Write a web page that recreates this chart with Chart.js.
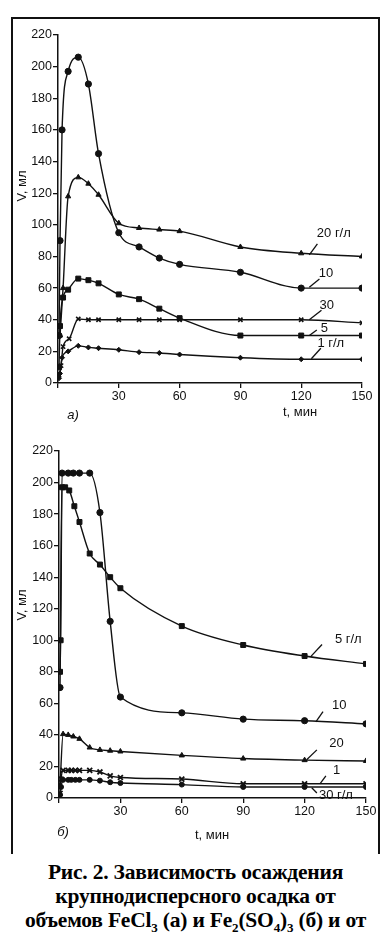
<!DOCTYPE html>
<html>
<head>
<meta charset="utf-8">
<script src="https://cdn.jsdelivr.net/npm/chart.js@4.4.1/dist/chart.umd.min.js"></script>
<style>
  html, body { margin: 0; padding: 0; background: #fff; }
  body { width: 391px; height: 936px; position: relative; overflow: hidden; }
  canvas { position: absolute; left: 0; }
  #chartA { top: 0; }
  #chartB { top: 430px; }
  .frame {
    position: absolute; left: 11px; top: 17px; width: 365px; height: 835px;
    border: 2px solid #111; border-bottom: none;
  }
  .caption {
    position: absolute; left: 0; top: 860px; width: 391px; text-align: center;
    font: bold 21.5px "Liberation Serif", "DejaVu Serif", serif; line-height: 24px; color: #000;
    letter-spacing: -0.2px;
  }
  .caption sub { font-size: 13px; line-height: 0; }
</style>
</head>
<body>
<div class="frame"></div>
<canvas id="chartA" width="391" height="425"></canvas>
<canvas id="chartB" width="391" height="420"></canvas>
<div class="caption">
  Рис. 2. Зависимость осаждения<br>
  крупнодисперсного осадка от<br>
  объемов FeCl<sub>3</sub> (а) и Fe<sub>2</sub>(SO<sub>4</sub>)<sub>3</sub> (б) и от
</div>
<script>
// ── а) FeCl3 ──
const tA20 = [1, 2.5, 5, 10, 15, 20, 30, 40, 50, 60, 90, 120, 150];
const vA20 = [30, 60, 118, 130, 126, 119, 101, 98, 97, 96, 86, 82, 80];
const tA10 = [0.5, 1, 2, 5, 10, 15, 20, 30, 40, 50, 60, 90, 120, 150];
const vA10 = [30, 90, 160, 197, 206, 189, 145, 95, 86, 79, 75, 70, 60, 60];
const tA5 = [0.5, 1, 2.5, 5, 10, 15, 20, 30, 40, 50, 60, 90, 120, 150];
const vA5 = [10, 36, 54, 59, 66, 65, 63, 56, 53, 47, 41, 30, 30, 30];
const tA30 = [0.5, 1.5, 2.5, 5.5, 10, 15, 20, 30, 40, 50, 60, 90, 120, 150];
const vA30 = [5, 11, 23, 28, 40.5, 40, 40, 40, 40, 40, 40, 40, 40, 38];
const tA1 = [0.5, 1, 2, 5, 10, 15, 20, 30, 40, 50, 60, 90, 120, 150];
const vA1 = [3, 6, 16, 20, 23.5, 22.5, 22, 21, 19.5, 19, 18, 16, 15, 15];

// ── б) Fe2(SO4)3 ──
const tB5 = [0.5, 0.8, 1.5, 3, 5, 7.5, 10, 15, 20, 25, 30, 60, 90, 120, 150];
const vB5 = [80, 100, 197, 197, 195, 185, 175, 155, 148, 140, 133, 109, 97, 90, 85];
const tB10 = [0.5, 1.5, 4.5, 7, 10, 15, 20, 25, 30, 60, 90, 120, 150];
const vB10 = [70, 206, 206, 206, 206, 206, 181, 112, 64, 54, 50, 49, 47];
const tB20 = [0.5, 2, 4.5, 7, 10, 15, 20, 25, 30, 60, 90, 120, 150];
const vB20 = [8, 40.5, 40, 39, 37.5, 32, 30.5, 30, 29.5, 27, 25, 24, 23.5];
const tB1 = [0.5, 1, 2, 4.5, 6, 8, 10, 15, 20, 25, 30, 60, 90, 120, 150];
const vB1 = [3, 12, 17.5, 17.5, 17.5, 17.5, 17.5, 17.5, 16.5, 14, 13, 12, 9, 9, 9];
const tB30 = [0.5, 1, 2, 4.5, 6, 8, 10, 15, 20, 25, 30, 60, 90, 120, 150];
const vB30 = [2, 7, 11.5, 11.5, 11.5, 11.5, 11.5, 11.5, 11, 10, 9.5, 8.5, 7, 7, 7];

const xTicks = [30, 60, 90, 120, 150];
const yMax = 220, yStep = 20, xMax = 150;

const FONT = '13px "Liberation Sans", Arial, sans-serif';
const INK = "#111";

function series(label, t, v, style, r, extra) {
  return Object.assign({
    label,
    data: t.map((x, i) => ({ x, y: v[i] })),
    pointStyle: style,
    pointRadius: r,
    borderColor: INK,
    backgroundColor: INK,
    pointBorderColor: INK,
    pointBackgroundColor: INK,
    borderWidth: 1.4,
    pointBorderWidth: 1,
    cubicInterpolationMode: "monotone",
    fill: false,
  }, extra || {});
}

// curve labels + axis captions
const notes = {
  id: "notes",
  afterDatasetsDraw(chart, args, opts) {
    const ctx = chart.ctx, xs = chart.scales.x, ys = chart.scales.y;
    ctx.save();
    ctx.fillStyle = INK;
    ctx.strokeStyle = INK;
    ctx.lineWidth = 1.3;
    ctx.font = FONT;
    ctx.textBaseline = "middle";
    (opts.curveLabels || []).forEach((l) => {
      ctx.beginPath();
      ctx.moveTo(xs.getPixelForValue(l.from[0]), ys.getPixelForValue(l.from[1]));
      ctx.lineTo(xs.getPixelForValue(l.to[0]), ys.getPixelForValue(l.to[1]));
      ctx.stroke();
      ctx.textAlign = "left";
      ctx.fillText(l.text, xs.getPixelForValue(l.at[0]), ys.getPixelForValue(l.at[1]));
    });
    (opts.texts || []).forEach((t) => {
      ctx.save();
      ctx.translate(t.x, t.y);
      if (t.rotate) ctx.rotate(t.rotate);
      ctx.font = t.font || FONT;
      ctx.textAlign = "center";
      ctx.fillText(t.text, 0, 0);
      ctx.restore();
    });
    ctx.restore();
  },
};

function makeChart(id, datasets, box, curveLabels, texts) {
  return new Chart(document.getElementById(id), {
    type: "line",
    data: { datasets },
    plugins: [notes],
    options: {
      responsive: false,
      animation: false,
      layout: { padding: { top: box.top, right: box.right, left: 0, bottom: 0 } },
      plugins: {
        legend: { display: false },
        tooltip: { enabled: false },
        notes: { curveLabels, texts },
      },
      scales: {
        x: {
          type: "linear",
          min: 0,
          max: xMax,
          afterFit: (s) => { s.height = box.xh; },
          afterBuildTicks: (s) => { s.ticks = [0].concat(xTicks).map((v) => ({ value: v })); },
          border: { color: INK, width: 1.5 },
          grid: { drawOnChartArea: false, color: INK, tickLength: 5, lineWidth: 1.3 },
          ticks: {
            color: INK, padding: 1, maxRotation: 0,
            font: { family: '"Liberation Sans", Arial, sans-serif', size: 12.5 },
            callback: (v) => (v === 0 ? "" : v),
          },
        },
        y: {
          min: 0,
          max: yMax,
          afterFit: (s) => { s.width = box.yw; },
          border: { color: INK, width: 1.5 },
          grid: { drawOnChartArea: false, color: INK, tickLength: 5, lineWidth: 1.3 },
          ticks: {
            stepSize: yStep, color: INK, padding: 1,
            font: { family: '"Liberation Sans", Arial, sans-serif', size: 12.5 },
          },
        },
      },
    },
  });
}

// ── Chart а ──
makeChart("chartA", [
  series("20 г/л", tA20, vA20, "triangle", 3),
  series("10", tA10, vA10, "circle", 3.1),
  series("5", tA5, vA5, "rect", 3.5),
  series("30", tA30, vA30, "crossRot", 3, { pointBorderWidth: 1.6 }),
  series("1 г/л", tA1, vA1, "rectRot", 2.5),
], { top: 35, right: 29, xh: 42, yw: 58 }, [
  { text: "20 г/л", at: [127.7, 94.8], from: [124, 81], to: [128, 88] },
  { text: "10", at: [128.7, 69.5], from: [124, 60.5], to: [129, 65.7] },
  { text: "30", at: [129, 49.3], from: [124, 40], to: [130, 46] },
  { text: "5", at: [129.7, 34.8], from: [124, 30], to: [127.7, 33.5] },
  { text: "1 г/л", at: [128, 25.3], from: [125, 15.3], to: [129.7, 22] },
], [
  { text: "V, мл", x: 22, y: 186, rotate: -Math.PI / 2 },
  { text: "t, мин", x: 300, y: 412 },
  { text: "а)", x: 73, y: 415, font: 'italic 13px "Liberation Sans", Arial, sans-serif' },
]);

// ── Chart б ──
makeChart("chartB", [
  series("5 г/л", tB5, vB5, "rect", 3.5),
  series("10", tB10, vB10, "circle", 3.1),
  series("20", tB20, vB20, "triangle", 3),
  series("1", tB1, vB1, "crossRot", 3.5, { pointBorderWidth: 1.8 }),
  series("30 г/л", tB30, vB30, "circle", 2.5),
], { top: 21, right: 25, xh: 52, yw: 59 }, [
  { text: "5 г/л", at: [134.8, 100.4], from: [123, 89.6], to: [128.5, 97.3] },
  { text: "10", at: [133.4, 58.5], from: [125.5, 48.3], to: [129, 54.7] },
  { text: "20", at: [132, 34.3], from: [121, 24.3], to: [126, 30.5] },
  { text: "1", at: [133.9, 17.8], from: [127.5, 9], to: [130.4, 14] },
  { text: "30 г/л", at: [127, 1.9], from: [123.5, 6.5], to: [126, 3.2] },
], [
  { text: "V, мл", x: 22, y: 175, rotate: -Math.PI / 2 },
  { text: "t, мин", x: 212, y: 405 },
  { text: "б)", x: 63, y: 402, font: 'italic 13px "Liberation Sans", Arial, sans-serif' },
]);
</script>
</body>
</html>
